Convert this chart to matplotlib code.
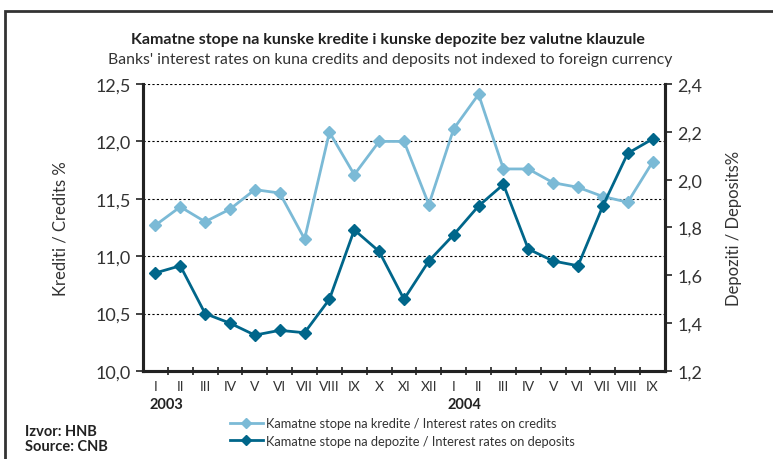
import matplotlib.pyplot as plt
from matplotlib.lines import Line2D
from matplotlib.patches import Rectangle

months = ["I", "II", "III", "IV", "V", "VI", "VII", "VIII", "IX", "X", "XI", "XII",
          "I", "II", "III", "IV", "V", "VI", "VII", "VIII", "IX"]
years = ["2003", "2004"]
year_start = [0, 12]
credits = [11.27, 11.43, 11.30, 11.41, 11.58, 11.55, 11.15, 12.08, 11.71, 12.00, 12.00,
           11.45, 12.11, 12.41, 11.76, 11.76, 11.64, 11.60, 11.52, 11.47, 11.82]
deposits = [1.61, 1.64, 1.44, 1.40, 1.35, 1.37, 1.36, 1.50, 1.79, 1.70, 1.50,
            1.66, 1.77, 1.89, 1.98, 1.71, 1.66, 1.64, 1.89, 2.11, 2.17]
left_ticks = [10.0, 10.5, 11.0, 11.5, 12.0, 12.5]
right_ticks = [1.2, 1.4, 1.6, 1.8, 2.0, 2.2, 2.4]

light = "#7bbad6"
dark = "#00668a"
axis_col = "#222222"

plt.rcParams["font.family"] = ["Lato", "DejaVu Sans"]

fig = plt.figure(figsize=(7.73, 4.60), dpi=100)
ax = fig.add_axes([143 / 773, 88 / 460, 522 / 773, 287 / 460])
ax2 = ax.twinx()

x = list(range(len(months)))
ax.plot(x, credits, color=light, lw=2, marker="D", ms=6, zorder=3)
ax2.plot(x, deposits, color=dark, lw=2, marker="D", ms=6, zorder=3)

ax.set_xlim(-0.5, len(months) - 0.5)
ax.set_ylim(10.0, 12.5)
ax2.set_ylim(1.2, 2.4)
ax.set_yticks(left_ticks)
ax.set_yticklabels([f"{v:.1f}".replace(".", ",") for v in left_ticks])
ax2.set_yticks(right_ticks)
ax2.set_yticklabels([f"{v:.1f}".replace(".", ",") for v in right_ticks])
ax.yaxis.grid(True, linestyle=(0, (2, 2)), color="black", lw=0.8)
ax.set_axisbelow(True)

# month labels and year labels
ax.set_xticks([i - 0.5 for i in range(1, len(months))])
ax.set_xticklabels([])
ax.tick_params(axis="x", direction="inout", length=6, width=1.2, color=axis_col)
for i, m in enumerate(months):
    ax.text(i, -0.033, m, transform=ax.get_xaxis_transform(), ha="center", va="top",
            fontsize=10, color="#333333")
for y, s in zip(years, year_start):
    ax.text(s - 0.25, -0.092, y, transform=ax.get_xaxis_transform(), ha="left", va="top",
            fontsize=10.5, fontweight="bold", color="#222222")

for a in (ax, ax2):
    a.spines["top"].set_visible(False)
    for side in ("left", "right", "bottom"):
        a.spines[side].set_linewidth(2.2)
        a.spines[side].set_color(axis_col)
ax.tick_params(axis="y", direction="out", length=5, width=1.2, color=axis_col,
               labelsize=13, labelcolor="#333333", pad=4)
ax2.tick_params(axis="y", direction="out", length=5, width=1.2, color=axis_col,
                labelsize=13, labelcolor="#333333", pad=4)

ax.set_ylabel("Krediti / Credits %", fontsize=12, color="#333333", labelpad=19)
ax2.set_ylabel("Depoziti / Deposits%", fontsize=12, color="#333333", labelpad=17)

fig.text(388 / 773, 1 - 40 / 460, "Kamatne stope na kunske kredite i kunske depozite bez valutne klauzule",
         ha="center", va="center", fontsize=11.5, fontweight="bold", color="#222222")
fig.text(390 / 773, 1 - 60 / 460, "Banks' interest rates on kuna credits and deposits not indexed to foreign currency",
         ha="center", va="center", fontsize=11.3, color="#333333")

handles = [Line2D([], [], color=light, lw=2, marker="D", ms=5),
           Line2D([], [], color=dark, lw=2, marker="D", ms=5)]
fig.legend(handles, ["Kamatne stope na kredite / Interest rates on credits",
                     "Kamatne stope na depozite / Interest rates on deposits"],
           loc="center left", bbox_to_anchor=(218 / 773, 1 - 433 / 460), frameon=False,
           fontsize=9.3, handlelength=2.6, handletextpad=0.2, labelspacing=0.45,
           labelcolor="#333333")

fig.text(25 / 773, 1 - 432 / 460, "Izvor: HNB", fontsize=10.5, fontweight="bold",
         va="center", color="#222222")
fig.text(25 / 773, 1 - 447 / 460, "Source: CNB", fontsize=10.5, fontweight="bold",
         va="center", color="#222222")

fig.add_artist(Rectangle((5 / 773, -0.2), 2.0, 1.2 - 12 / 460, transform=fig.transFigure,
                         fill=False, lw=2, edgecolor="#333333", clip_on=False))

fig.savefig("out.png", dpi=100)
